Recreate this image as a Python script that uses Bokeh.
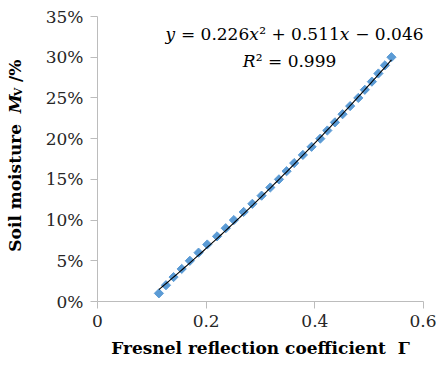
import numpy as np
from bokeh.plotting import figure
from bokeh.layouts import row
from bokeh.models import Range1d, FixedTicker, Label, ColumnDataSource
from bokeh.embed import file_html
from bokeh.resources import INLINE

# ---- data ----
soil_moisture = [0.01, 0.02, 0.03, 0.04, 0.05, 0.06, 0.07, 0.08, 0.09, 0.10,
                 0.11, 0.12, 0.13, 0.14, 0.15, 0.16, 0.17, 0.18, 0.19, 0.20,
                 0.21, 0.22, 0.23, 0.24, 0.25, 0.26, 0.27, 0.28, 0.29, 0.30]
fresnel_gamma = [0.113, 0.126, 0.140, 0.155, 0.170, 0.186, 0.202, 0.220, 0.236, 0.251,
                 0.269, 0.285, 0.302, 0.318, 0.334, 0.348, 0.362, 0.378, 0.394, 0.410,
                 0.423, 0.437, 0.451, 0.465, 0.480, 0.492, 0.505, 0.517, 0.529, 0.541]
fit_coeffs = [0.226, 0.511, -0.046]   # y = a x^2 + b x + c
x_ticks = [0.0, 0.2, 0.4, 0.6]
x_tick_labels = ["0", "0.2", "0.4", "0.6"]
y_ticks = [0.0, 0.05, 0.10, 0.15, 0.20, 0.25, 0.30, 0.35]
y_tick_labels = ["0%", "5%", "10%", "15%", "20%", "25%", "30%", "35%"]
x_title = "Fresnel reflection coefficient\u00a0\u00a0\u0393"

FONT = "DejaVu Serif"
AXIS_GREY = "#bcbcbc"
TEXT_COL = "#262626"
NB = "\u00a0"

LEFT_W = 40
p = figure(width=436 - LEFT_W, height=366, output_backend="svg", toolbar_location=None,
           x_range=Range1d(0, 0.6), y_range=Range1d(0, 0.35),
           min_border_left=97 - LEFT_W, min_border_right=13, min_border_top=16, min_border_bottom=65)
p.outline_line_color = None
p.grid.visible = False
p.background_fill_color = "white"
p.border_fill_color = "white"

for ax, ticks, labels in ((p.xaxis[0], x_ticks, x_tick_labels), (p.yaxis[0], y_ticks, y_tick_labels)):
    ax.ticker = FixedTicker(ticks=ticks)
    ax.major_label_overrides = {t: l for t, l in zip(ticks, labels)}
    ax.axis_line_color = AXIS_GREY
    ax.major_tick_line_color = AXIS_GREY
    ax.major_tick_out = 7
    ax.major_tick_in = 0
    ax.minor_tick_line_color = None
    ax.major_label_text_font = FONT
    ax.major_label_text_font_size = "17px"
    ax.major_label_text_color = TEXT_COL
p.xaxis.major_label_standoff = 6
p.yaxis.major_label_standoff = 7
p.xaxis.axis_label = x_title
p.xaxis.axis_label_text_font = FONT
p.xaxis.axis_label_text_font_size = "17px"
p.xaxis.axis_label_text_font_style = "bold"
p.xaxis.axis_label_text_color = "black"
p.xaxis.axis_label_standoff = 8

src = ColumnDataSource(dict(x=fresnel_gamma, y=soil_moisture))
p.scatter("x", "y", source=src, marker="square", angle=np.pi / 4, size=6.5,
          fill_color="#5b9bd5", line_color="#5b9bd5")

tx = np.linspace(min(fresnel_gamma), max(fresnel_gamma), 120)
ty = np.polyval(fit_coeffs, tx)
p.line(tx, ty, line_color="black", line_width=1.1)

# ---- helper to place mixed-style text pieces in the plot frame ----
def px_to_x(px):
    return (px - 97) / (326 / 0.6)

def px_to_y(py):
    return (301 - py) / (285 / 0.35)

def pieces(parts, start_px, base_py, size):
    off = 0.0
    for txt, style, w_em in parts:
        p.add_layout(Label(x=px_to_x(start_px), y=px_to_y(base_py), x_offset=off,
                           text=txt, text_font=FONT, text_font_size=f"{size}px",
                           text_font_style=style, text_color="black",
                           text_align="left", text_baseline="alphabetic"))
        off += w_em * size

eq1 = [("y", "italic", 0.59), (NB + "=" + NB + "0.226", "normal", 4.336), ("x", "italic", 0.59),
       ("\u00b2" + NB + "+" + NB + "0.511", "normal", 4.737), ("x", "italic", 0.59),
       (NB + "\u2212" + NB + "0.046", "normal", 4.336)]
eq2 = [("R", "italic", 0.77), ("\u00b2" + NB + "=" + NB + "0.999", "normal", 4.737)]
pieces(eq1, 294 - 15.179 * 17 / 2, 33.5, 17)
pieces(eq2, 289 - 5.507 * 17 / 2, 60.5, 17)

# ---- narrow left panel holding the rotated y-axis title ----
q = figure(width=LEFT_W, height=366, output_backend="svg", toolbar_location=None,
           x_range=Range1d(0, LEFT_W), y_range=Range1d(0, 366),
           min_border=0, x_axis_location=None, y_axis_location=None)
q.outline_line_color = None
q.grid.visible = False
q.border_fill_color = "white"
q.background_fill_color = "white"

ysize = 17
yparts = [("Soil" + NB + "moisture" + NB, "bold", 8.14 * ysize, 0, ysize),
          ("M", "bold italic", 1.0 * ysize, 0, ysize),
          ("V", "bold", 0.77 * 11, 4, 11),
          (NB + "/%", "bold", 1.713 * ysize, 0, ysize)]
off = 0.0
for txt, st, w, dx, sz in yparts:
    q.add_layout(Label(x=14, y=64, x_offset=dx, y_offset=off, angle=np.pi / 2,
                       text=txt, text_font=FONT, text_font_size=f"{sz}px",
                       text_font_style=st, text_color="black",
                       text_align="left", text_baseline="alphabetic"))
    off += w

layout = row(q, p, spacing=0)
open("out.html", "w").write(file_html(layout, INLINE))
